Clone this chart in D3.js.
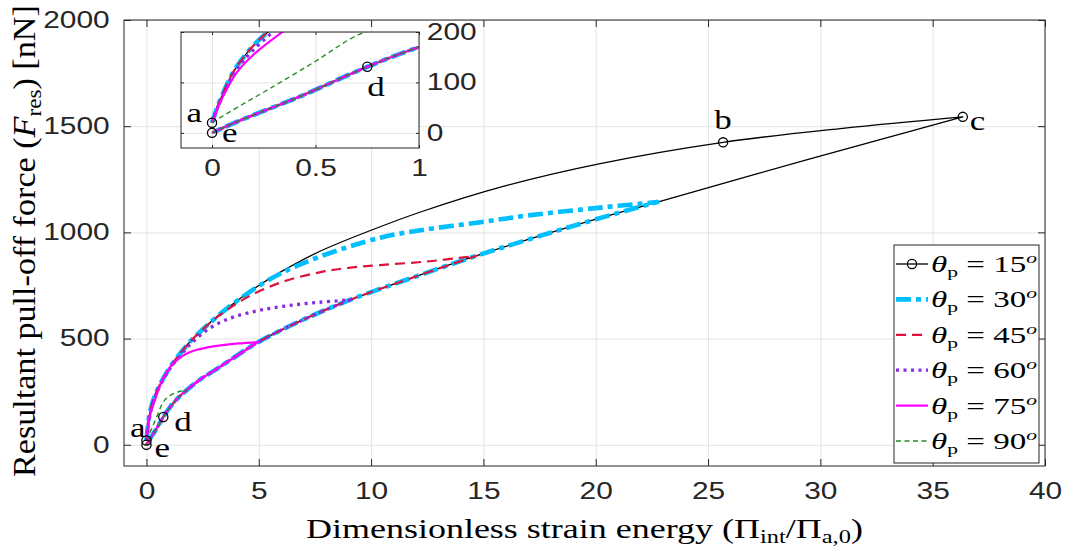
<!DOCTYPE html>
<html>
<head>
<meta charset="utf-8">
<script src="https://cdn.jsdelivr.net/npm/d3@7"></script>
<style>
  html, body { margin: 0; padding: 0; background: #fff; }
  svg { display: block; }
</style>
</head>
<body>
<svg id="chart" width="1069" height="554"></svg>
<script>
// ---- data ---------------------------------------------------------------
// Common unloading branch, e -> d -> c (every curve returns along it)
const unloadX = [0, 0.12, 0.43, 0.75, 1.0, 1.4, 1.8, 2.4, 3.1, 3.7, 4.97, 7.0, 9.06, 12.2, 14.7, 19.33, 22.75, 29.5, 36.34];
const unloadY = [0, 22, 73, 131, 170, 220, 258, 308, 355, 397, 483, 590, 682, 800, 890, 1041, 1143, 1345, 1544];

// Loading branches, from a up to the turning point of each pull angle
const load15X = [0, 0.02, 0.06, 0.12, 0.25, 0.5, 1, 1.5, 2, 3.26, 4, 5, 6, 7.7, 10, 12.2, 16, 20.2, 25.67, 31, 36.34];
const load15Y = [20, 45, 85, 132, 193, 262, 357, 430, 492, 614, 675, 750, 815, 910, 1010, 1096, 1220, 1324, 1424, 1490, 1544];

const load30X = [0, 0.02, 0.06, 0.12, 0.25, 0.5, 1, 1.5, 2, 3.26, 4, 5, 6, 7.7, 10.4, 12.2, 14.87, 17, 19.33, 21, 22.75];
const load30Y = [20, 45, 85, 132, 193, 262, 357, 430, 492, 614, 675, 748, 808, 885, 975, 1010, 1048, 1080, 1107, 1125, 1143];

const load45X = [0, 0.02, 0.06, 0.12, 0.25, 0.5, 1, 1.5, 2, 3.26, 4.5, 6, 7.7, 9, 10.4, 12.6, 14.7];
const load45Y = [20, 45, 85, 132, 193, 262, 357, 430, 492, 610, 695, 765, 812, 833, 846, 864, 890];

const load60X = [0, 0.02, 0.06, 0.12, 0.28, 0.5, 1, 1.5, 2, 2.6, 3.26, 4, 5.04, 6.3, 7.7, 9.06];
const load60Y = [20, 43, 82, 127, 195, 258, 352, 420, 478, 533, 575, 606, 633, 655, 671, 682];

const load75X = [0, 0.02, 0.06, 0.12, 0.2, 0.34, 0.73, 1.1, 1.47, 1.8, 2.2, 2.66, 3.3, 4.1, 4.97];
const load75Y = [20, 42, 78, 120, 155, 200, 310, 372, 408, 430, 446, 457, 468, 477, 483];

const load90X = [0, 0.05, 0.12, 0.28, 0.5, 0.7, 0.9, 1.2, 1.5, 1.8];
const load90Y = [20, 33, 50, 88, 142, 193, 220, 241, 252, 258];

const angles = [15, 30, 45, 60, 75, 90];

// Marked states on the 15 degree cycle
const markerNames = ["a", "b", "c", "d", "e"];
const markerX = [0, 25.67, 36.34, 0.75, 0];
const markerY = [20, 1424, 1544, 131, 0];

// Tick values
const xTicks = [0, 5, 10, 15, 20, 25, 30, 35, 40];
const yTicks = [0, 500, 1000, 1500, 2000];
const insetXTicks = [0, 0.5, 1];
const insetYTicks = [0, 100, 200];

// ---- layout & style ---------------------------------------------------------
const svg = d3.select("#chart");
const M = { left: 124, right: 1045, top: 20, bottom: 466 };
const I = { left: 181, right: 419, top: 32, bottom: 148 };
const AX = "#262626";
const GRID = "#e4e4e4";
const SANS = "'Liberation Sans', Arial, sans-serif";
const SERIF = "'Liberation Serif', 'Times New Roman', serif";
const STRETCH = 1.25;   // wide glyph proportion used by the labels

const x = d3.scaleLinear().domain([-1, 40]).range([M.left, M.right]);
const y = d3.scaleLinear().domain([-100, 2000]).range([M.bottom, M.top]);
const xi = d3.scaleLinear().domain([-0.15, 1]).range([I.left, I.right]);
const yi = d3.scaleLinear().domain([-30, 200]).range([I.bottom, I.top]);

const styles = {
  15: { color: "#000000", width: 1.3, dash: null },
  30: { color: "#00BFFF", width: 4.6, dash: "15,5,5,5" },
  45: { color: "#DC143C", width: 2.2, dash: "10,6" },
  60: { color: "#8A2BE2", width: 3.3, dash: "3,4.5" },
  75: { color: "#FF00FF", width: 2.2, dash: null },
  90: { color: "#228B22", width: 1.4, dash: "5,3.5" }
};
const loads = {
  15: [load15X, load15Y], 30: [load30X, load30Y], 45: [load45X, load45Y],
  60: [load60X, load60Y], 75: [load75X, load75Y], 90: [load90X, load90Y]
};

// loading branch followed by the return along the unloading branch
function cycle(angle) {
  const [lx, ly] = loads[angle];
  const up = lx.map((v, i) => [v, ly[i]]);
  const peak = up[up.length - 1];
  const down = [peak];
  for (let i = unloadX.length - 1; i >= 0; i--) {
    if (unloadX[i] < peak[0] - 1e-9) down.push([unloadX[i], unloadY[i]]);
  }
  return { up, down };
}

const defs = svg.append("defs");
defs.append("clipPath").attr("id", "clipMain").append("rect")
  .attr("x", M.left).attr("y", M.top).attr("width", M.right - M.left).attr("height", M.bottom - M.top);
defs.append("clipPath").attr("id", "clipInset").append("rect")
  .attr("x", I.left).attr("y", I.top).attr("width", I.right - I.left).attr("height", I.bottom - I.top);

function drawPanel(g, sx, sy, clipId) {
  const line = d3.line().x(d => sx(d[0])).y(d => sy(d[1])).curve(d3.curveCatmullRom.alpha(0.5));
  const lines = g.append("g").attr("clip-path", `url(#${clipId})`);
  angles.forEach(a => {
    const c = cycle(a);
    const st = styles[a];
    const d = line(c.up) + line(c.down).replace(/^M/, "L");
    lines.append("path").attr("d", d)
      .attr("fill", "none").attr("stroke", st.color).attr("stroke-width", st.width)
      .attr("stroke-dasharray", st.dash).attr("stroke-linejoin", "round");
  });
  lines.selectAll("circle.mk").data(markerX.map((v, i) => [v, markerY[i]]))
    .join("circle").attr("class", "mk")
    .attr("cx", d => sx(d[0])).attr("cy", d => sy(d[1])).attr("r", 4.6)
    .attr("fill", "none").attr("stroke", "#000").attr("stroke-width", 1.3);
  return lines;
}

function stretchText(sel, sxFactor) {
  sel.attr("transform", `scale(${sxFactor},1)`);
}

// ---- main axes ---------------------------------------------------------------
svg.append("rect").attr("x", M.left).attr("y", M.top)
  .attr("width", M.right - M.left).attr("height", M.bottom - M.top).attr("fill", "#fff");

// grid
const gridX = svg.append("g").attr("transform", `translate(0,${M.bottom})`)
  .call(d3.axisBottom(x).tickValues(xTicks).tickSize(-(M.bottom - M.top)).tickFormat(""));
const gridY = svg.append("g").attr("transform", `translate(${M.left},0)`)
  .call(d3.axisLeft(y).tickValues(yTicks).tickSize(-(M.right - M.left)).tickFormat(""));
[gridX, gridY].forEach(g => {
  g.select(".domain").remove();
  g.selectAll("line").attr("stroke", GRID).attr("stroke-width", 1);
});

drawPanel(svg.append("g"), x, y, "clipMain");

// tick axes (ticks pointing inward on all four sides)
function styleAxis(g, withText) {
  g.attr("font-family", SANS).attr("font-size", 23);
  g.select(".domain").remove();
  g.selectAll(".tick line").attr("stroke", AX).attr("stroke-width", 1);
  if (withText) g.selectAll(".tick text").attr("fill", AX).call(stretchText, 1.3);
}
styleAxis(svg.append("g").attr("transform", `translate(0,${M.bottom})`)
  .call(d3.axisBottom(x).tickValues(xTicks).tickSize(-7).tickPadding(17).tickFormat(d3.format("d"))), true);
styleAxis(svg.append("g").attr("transform", `translate(${M.left},0)`)
  .call(d3.axisLeft(y).tickValues(yTicks).tickSize(-7).tickPadding(11).tickFormat(d3.format("d"))), true);
styleAxis(svg.append("g").attr("transform", `translate(0,${M.top})`)
  .call(d3.axisTop(x).tickValues(xTicks).tickSize(-7).tickFormat("")), false);
styleAxis(svg.append("g").attr("transform", `translate(${M.right},0)`)
  .call(d3.axisRight(y).tickValues(yTicks).tickSize(-7).tickFormat("")), false);
svg.append("rect").attr("x", M.left).attr("y", M.top)
  .attr("width", M.right - M.left).attr("height", M.bottom - M.top)
  .attr("fill", "none").attr("stroke", AX).attr("stroke-width", 1);

// point labels
function pointLabel(g, px, py, txt, anchor, dx, dy, size) {
  g.append("text").attr("transform", `translate(${px + dx},${py + dy}) scale(${STRETCH},1)`)
    .attr("text-anchor", anchor).attr("font-family", SERIF).attr("font-size", size)
    .attr("fill", "#000").text(txt);
}
const mainLabelPos = {
  a: ["end", -1, -4], b: ["middle", 0, -13], c: ["start", 7, 13],
  d: ["start", 11, 14], e: ["start", 8, 12]
};
const labelLayer = svg.append("g");
markerNames.forEach((n, i) => {
  const p = mainLabelPos[n];
  pointLabel(labelLayer, x(markerX[i]), y(markerY[i]), n, p[0], p[1], p[2], 28);
});

// axis titles
function fitText(textSel, targetLen) {
  const nat = textSel.node().getComputedTextLength();
  return targetLen / nat;
}
const xl = svg.append("text").attr("font-family", SERIF).attr("font-size", 28).attr("fill", "#000");
xl.append("tspan").text("Dimensionless strain energy (\u03A0");
xl.append("tspan").attr("font-size", 19).attr("dy", 5).text("int");
xl.append("tspan").attr("dy", -5).text("/\u03A0");
xl.append("tspan").attr("font-size", 19).attr("dy", 5).text("a,0");
xl.append("tspan").attr("dy", -5).text(")");
{
  const L = 557, k = fitText(xl, L);
  xl.attr("transform", `translate(${(M.left + M.right) / 2 - L / 2},538) scale(${k},1)`);
}

const yl = svg.append("text").attr("font-family", SERIF).attr("font-size", 28).attr("fill", "#000");
yl.append("tspan").text("Resultant pull-off force (");
yl.append("tspan").attr("font-style", "italic").text("F");
yl.append("tspan").attr("font-size", 19).attr("dy", 5).text("res");
yl.append("tspan").attr("dy", -5).text(") [nN]");
{
  const L = 472, k = fitText(yl, L);
  yl.attr("transform", `translate(35,${241 + L / 2}) rotate(-90) scale(${k},1.12)`);
}

// ---- inset -------------------------------------------------------------------
const ins = svg.append("g");
ins.append("rect").attr("x", I.left).attr("y", I.top)
  .attr("width", I.right - I.left).attr("height", I.bottom - I.top).attr("fill", "#fff");
const igx = ins.append("g").attr("transform", `translate(0,${I.bottom})`)
  .call(d3.axisBottom(xi).tickValues(insetXTicks).tickSize(-(I.bottom - I.top)).tickFormat(""));
const igy = ins.append("g").attr("transform", `translate(${I.left},0)`)
  .call(d3.axisLeft(yi).tickValues(insetYTicks).tickSize(-(I.right - I.left)).tickFormat(""));
[igx, igy].forEach(g => {
  g.select(".domain").remove();
  g.selectAll("line").attr("stroke", GRID).attr("stroke-width", 1);
});
drawPanel(ins.append("g"), xi, yi, "clipInset");

styleAxis(ins.append("g").attr("transform", `translate(0,${I.bottom})`)
  .call(d3.axisBottom(xi).tickValues(insetXTicks).tickSize(-3).tickPadding(12).tickFormat(d => String(d))), true);
styleAxis(ins.append("g").attr("transform", `translate(${I.right},0)`)
  .call(d3.axisRight(yi).tickValues(insetYTicks).tickSize(-3).tickPadding(6).tickFormat(d3.format("d"))), true);
styleAxis(ins.append("g").attr("transform", `translate(0,${I.top})`)
  .call(d3.axisTop(xi).tickValues(insetXTicks).tickSize(-3).tickFormat("")), false);
styleAxis(ins.append("g").attr("transform", `translate(${I.left},0)`)
  .call(d3.axisLeft(yi).tickValues(insetYTicks).tickSize(-3).tickFormat("")), false);
ins.append("rect").attr("x", I.left).attr("y", I.top)
  .attr("width", I.right - I.left).attr("height", I.bottom - I.top)
  .attr("fill", "none").attr("stroke", AX).attr("stroke-width", 1);

const insetLabelPos = { a: ["end", -10, -1], e: ["start", 10, 9], d: ["start", 0, 29] };
["a", "d", "e"].forEach(n => {
  const i = markerNames.indexOf(n);
  const p = insetLabelPos[n];
  pointLabel(ins, xi(markerX[i]), yi(markerY[i]), n, p[0], p[1], p[2], 28);
});

// ---- legend --------------------------------------------------------------------
const LG = { x: 894, y: 245, w: 145, h: 218 };
const leg = svg.append("g");
leg.append("rect").attr("x", LG.x).attr("y", LG.y).attr("width", LG.w).attr("height", LG.h)
  .attr("fill", "#fff").attr("stroke", AX).attr("stroke-width", 1);
angles.forEach((a, i) => {
  const ry = 264 + i * 35.4;
  const st = styles[a];
  leg.append("line").attr("x1", 896).attr("x2", 928).attr("y1", ry).attr("y2", ry)
    .attr("stroke", st.color).attr("stroke-width", st.width).attr("stroke-dasharray", st.dash);
  if (a === 15) {
    leg.append("circle").attr("cx", 912).attr("cy", ry).attr("r", 4.6)
      .attr("fill", "none").attr("stroke", "#000").attr("stroke-width", 1.3);
  }
  const t = leg.append("text").attr("font-family", SERIF).attr("font-size", 23).attr("fill", "#000");
  t.append("tspan").attr("font-style", "italic").text("\u03B8");
  t.append("tspan").attr("font-size", 15).attr("dy", 5).text("p");
  t.append("tspan").attr("dy", -5).text(" = " + a);
  t.append("tspan").attr("font-size", 15).attr("font-style", "italic").attr("dy", -9).text("o");
  const k = fitText(t, 106);
  t.attr("transform", `translate(931,${ry + 8}) scale(${k},1)`);
});
</script>
</body>
</html>
